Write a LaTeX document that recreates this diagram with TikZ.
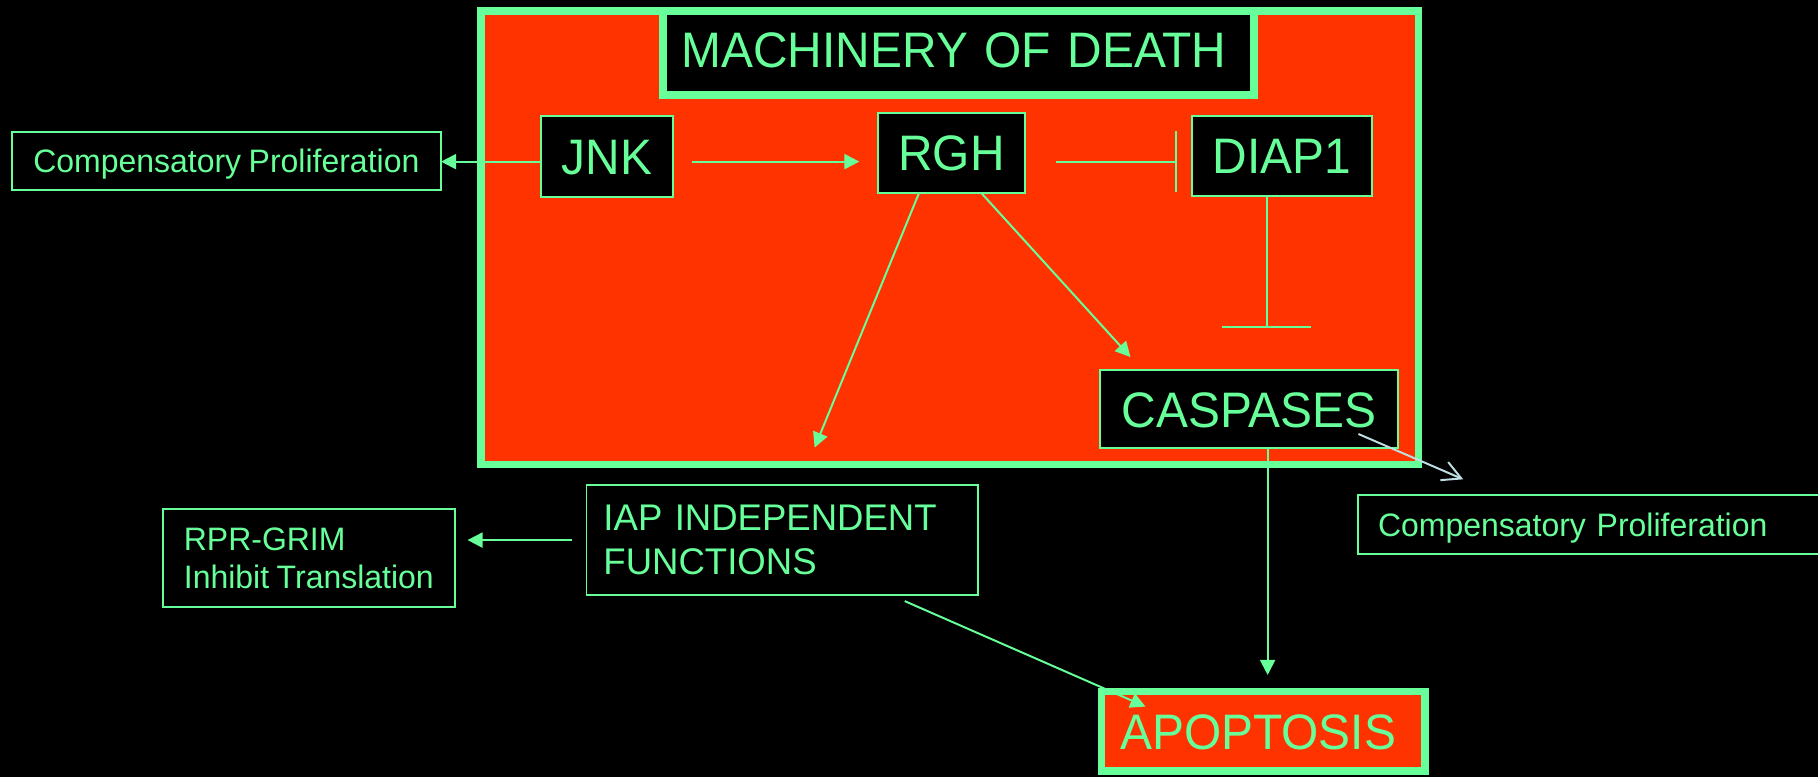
\documentclass[tikz,border=0pt]{standalone}
\usepackage{fontspec}
\setmainfont{Liberation Sans}
\newfontfamily\bigfam[FakeStretch=0.96, WordSpace=0.85]{Liberation Sans}
\newfontfamily\smfam[FakeStretch=0.985, WordSpace=0.85]{Liberation Sans}
\usetikzlibrary{arrows.meta,calc}
\definecolor{grn}{RGB}{102,255,153}
\definecolor{rd}{RGB}{255,51,0}
\definecolor{palec}{RGB}{190,222,225}
\newcommand\bigf{\bigfam\fontsize{43bp}{50bp}\selectfont}
\newcommand\midf{\smfam\fontsize{32bp}{38.2bp}\selectfont}
\newcommand\smf{\smfam\fontsize{28bp}{32.2bp}\selectfont}
\tikzset{
  gbox/.style={draw=grn, line width=1.7bp, fill=black, text=grn, inner sep=0pt, outer sep=0pt},
  bignode/.style={gbox, font=\bigf, text height=31bp, text depth=0bp},
  compnode/.style={gbox, font=\smf, text height=20bp, text depth=0bp},
  frame/.style={draw=grn, text=grn, inner sep=0pt, outer sep=0pt},
  arr/.style={draw=grn, line width=1.7bp, -{Triangle[length=13bp,width=13bp]}},
  inh/.style={draw=grn, line width=1.7bp, -{Bar[width=#1]}},
  palearr/.style={draw=palec, line width=1.7bp, -{Straight Barb[length=16bp,width=17bp]}},
}
\begin{document}
\begin{tikzpicture}[x=1bp,y=-1bp]
\useasboundingbox (0,0) rectangle (1568,670.2);
\clip (0,0) rectangle (1568,670.2);
\fill[black] (0,0) rectangle (1568,670.2);

% main frame
\node[frame, line width=6.5bp, fill=rd, minimum width=808.5bp, minimum height=391.2bp] (mach) at (819.25,205.1) {};
\node[frame, line width=7bp, fill=black, minimum width=509.8bp, minimum height=72.5bp,
      font=\bigf, text height=31bp, text depth=6bp, text width=477bp, align=left] (title) at (826.4,45.75) {\mbox{MACHINERY OF DEATH}};

% boxes
\node[bignode, minimum width=114bp, minimum height=69.6bp] (JNK) at (523.6,134.8) {JNK};
\node[bignode, minimum width=127bp, minimum height=69bp] (RGH) at (820.7,131.7) {RGH};
\node[bignode, minimum width=155bp, minimum height=69.2bp] (DIAP) at (1105.4,134.4) {DIAP1};
\node[bignode, minimum width=256.5bp, minimum height=67.3bp] (CAS) at (1077.2,353) {CASPASES};

\node[compnode, minimum width=370.4bp, minimum height=50.3bp] (comp1) at (195.2,138.7) {Compensatory Proliferation};
\node[compnode, anchor=north west, minimum height=51bp, text width=386bp, align=left, inner xsep=17bp] (comp2) at (1171.5,427) {Compensatory Proliferation};

\node[gbox, font=\midf, minimum width=337.3bp, minimum height=94.9bp, text width=308bp, align=left] (IAP) at (674.5,465.8) {IAP INDEPENDENT\\FUNCTIONS};
\node[gbox, font=\smf, minimum width=251.7bp, minimum height=84.5bp, align=left] (RPR) at (266.35,481.55) {RPR-GRIM\\Inhibit Translation};

\node[frame, line width=6.5bp, fill=rd, minimum width=279bp, minimum height=68.5bp,
      font=\bigf, text height=31bp, text depth=0bp, text width=247bp, align=left] (APOP) at (1089.7,630.7) {\mbox{APOPTOSIS}};

% helper coordinates
\coordinate (hl) at (0,139.4);
\coordinate (dbar) at (1092.5,282.6);
\coordinate (cv) at (1093.3,0);
\coordinate (ps) at (1171.6,374.3);
\coordinate (pe) at (1262,413.4);

% connectors
\draw[arr] (JNK.west |- hl) -- (comp1.east |- hl);
\draw[arr, shorten <=16bp, shorten >=16bp] (JNK.east |- hl) -- (RGH.west |- hl);
\draw[inh=52bp, shorten <=26.6bp, shorten >=12.8bp] (RGH.east |- hl) -- (DIAP.west |- hl);
\draw[inh=77bp] (DIAP.south -| dbar) -- (dbar);
\draw[arr, shorten >=34.9bp] ($(RGH.south west)!0.28!(RGH.south east)$) -- ($(IAP.north west)!0.544!(IAP.north east)$);
\draw[arr, shorten >=15.4bp] ($(RGH.south west)!0.70!(RGH.south east)$) -- ($(CAS.north west)!0.142!(CAS.north east)$);
\draw[arr, shorten <=12.8bp, shorten >=11bp] (IAP.west) -- (RPR.east |- IAP.west);
\draw[arr, shorten <=12.95bp, shorten >=-32.3bp] ($(IAP.south west)!0.7786!(IAP.south east)$) -- ($(APOP.north west)!0.0294!(APOP.north east)$);
\draw[arr, shorten >=14.3bp] (CAS.south -| cv) -- (APOP.north -| cv);
\draw[palearr] (ps) -- (pe);
\end{tikzpicture}
\end{document}
